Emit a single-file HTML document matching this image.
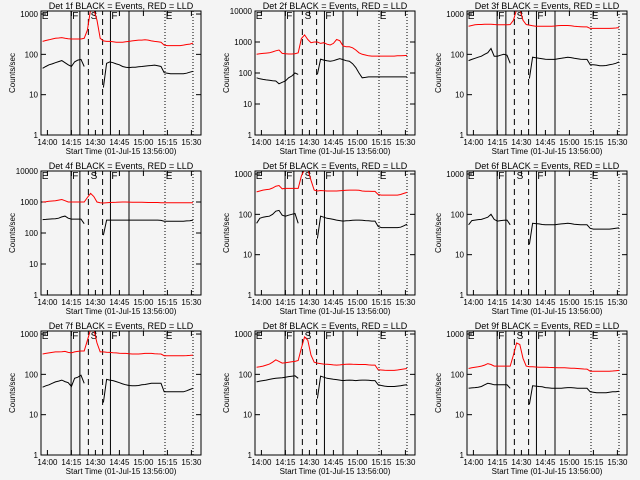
<!DOCTYPE html>
<html><head><meta charset="utf-8"><style>
html,body{margin:0;padding:0;background:#f4f4f4;}
svg{display:block;font-family:"Liberation Sans",sans-serif;}
</style></head><body>
<svg id="chart" width="640" height="480" viewBox="0 0 640 480"></svg>
<script>
// sample times (minutes after 13:56:00)
const times=[1,3,5,7,9,11,13,15,17,19,21,23,25,27,29,31,33,35,37,39,41,43,45,47,49,51,53,55,57,59,61,63,65,67,69,71,73,75,77,79,81,83,85,87,89,91,93,95];
const detectors=["1f","2f","3f","4f","5f","6f","7f","8f","9f"];
const xTickLabels=["14:00","14:15","14:30","14:45","15:00","15:15","15:30"];
const xTickMinutes=[4,19,34,49,64,79,94];
const solidLines=[18.8,24.3,43.4,55];
const dashedLines=[29.6,38.5];
const dottedLines=[77.5,95];
const phaseLetters=["E","F","S","F","E"];
const phaseMinutes=[0.5,19.5,31,44,78];
const yMaxLog=[3.075,4,3.075,4,3.075,3.075,3.075,3.075,3.075];
const red1=[210,220,230,240,250,255,260,250,245,240,240,240,240,250,400,1300,1300,700,250,215,210,210,205,200,200,200,205,210,215,220,225,225,230,225,215,210,205,200,170,165,165,165,165,165,170,175,180,190];
const black1=[45,50,55,58,62,66,70,62,55,50,65,72,75,50,null,null,null,null,null,15,60,65,62,58,55,50,48,47,48,48,49,50,51,52,53,54,52,50,35,34,33,33,33,33,33,34,36,38];
const red2=[400,420,430,440,450,480,520,550,430,420,410,410,420,450,1300,1700,1200,950,1000,1000,900,950,850,800,900,1200,1100,750,700,700,650,550,450,400,380,360,350,350,350,350,350,350,350,350,360,360,365,370];
const black2=[70,65,62,60,58,56,55,45,50,55,70,80,100,90,null,null,null,null,null,90,280,260,250,240,250,270,290,270,250,240,200,150,100,70,72,75,75,75,75,75,75,75,75,75,75,75,75,75];
const red3=[500,520,540,550,550,555,560,560,550,545,540,540,540,550,700,1300,1300,700,550,530,510,500,500,500,500,500,500,505,515,520,520,520,510,500,490,485,480,480,440,440,440,440,440,440,440,445,450,460];
const black3=[70,75,80,85,90,100,110,140,90,90,95,100,95,60,null,null,null,null,null,25,85,82,80,78,76,75,75,75,78,80,82,85,83,80,78,76,75,75,55,55,54,52,52,53,55,57,60,65];
const red4=[1000,1020,1050,1080,1100,1150,1200,1100,1000,1000,1000,1000,1000,1000,1400,1900,1500,1000,950,930,950,960,970,980,990,1000,1000,990,980,980,980,980,970,960,960,960,960,950,950,950,950,950,950,950,950,950,950,950];
const black4=[270,275,280,285,290,300,330,350,300,280,280,280,280,200,null,null,null,null,null,85,260,260,260,260,260,260,260,260,260,260,260,260,260,260,260,260,260,255,240,240,240,240,240,240,240,245,250,260];
const red5=[360,380,400,410,420,450,500,520,430,440,440,440,440,440,900,1300,1300,700,400,380,390,385,380,380,380,380,385,390,395,400,400,400,395,380,375,372,370,370,310,300,300,300,300,300,300,310,330,350];
const black5=[60,80,85,88,90,100,120,125,95,90,95,100,105,60,null,null,null,null,null,25,90,85,80,78,75,72,70,68,69,70,71,72,72,71,70,69,68,68,50,47,47,47,47,47,47,48,52,57];
const red6=[1250,1250,1250,1250,1250,1250,1250,1250,1250,1250,1250,1250,1250,1250,1250,1250,1250,1250,1250,1250,1250,1250,1250,1250,1250,1250,1250,1250,1250,1250,1250,1250,1250,1250,1250,1250,1250,1250,1250,1250,1250,1250,1250,1250,1250,1250,1250,1250];
const black6=[55,70,72,74,75,80,85,100,75,68,70,71,72,55,null,null,null,null,null,18,60,59,58,56,55,55,55,55,57,58,59,60,59,57,56,55,55,55,45,43,43,43,43,43,43,44,45,46];
const red7=[320,330,340,350,360,360,365,370,350,340,360,370,380,380,700,1300,1300,600,360,360,355,350,345,340,335,330,330,325,320,320,320,325,330,330,330,325,322,320,290,290,290,290,290,290,290,292,295,300];
const black7=[48,52,55,60,65,68,72,66,62,50,80,85,95,60,null,null,null,null,null,20,75,72,70,66,62,58,55,53,52,52,53,55,56,58,60,60,60,60,37,37,37,37,37,37,37,39,42,45];
const red8=[150,155,160,170,180,200,230,210,190,195,200,205,210,220,450,850,700,300,200,190,185,180,178,175,172,170,172,175,178,180,178,176,175,175,175,172,170,170,130,128,126,125,125,125,128,132,136,140];
const black8=[65,68,70,72,75,78,80,81,82,85,88,90,92,80,null,null,null,null,null,25,90,85,80,78,76,74,72,70,71,72,71,70,71,72,72,71,70,70,55,53,51,50,50,50,51,52,54,55];
const red9=[140,145,150,155,160,170,185,175,160,160,160,160,160,160,300,600,550,250,160,155,155,152,150,150,150,149,148,147,146,145,145,144,142,141,140,138,136,135,120,120,120,120,120,120,120,121,123,125];
const black9=[45,46,47,48,50,55,60,58,55,55,55,55,55,45,null,null,null,null,null,18,52,51,50,49,47,46,45,45,45,45,46,47,47,46,45,45,45,45,37,36,35,35,35,35,36,37,37,38];
const redSeries=[red1,red2,red3,red4,red5,red6,red7,red8,red9];
const blackSeries=[black1,black2,black3,black4,black5,black6,black7,black8,black9];

const NS="http://www.w3.org/2000/svg";
const svg=document.getElementById('chart');
const lefts=[41,255,467], tops=[11,171,331], W=160, H=124, TMAX=100;
function mk(tag,attrs,parent){const e=document.createElementNS(NS,tag);for(const k in attrs)e.setAttribute(k,attrs[k]);parent.appendChild(e);return e;}

for(let p=0;p<9;p++){
  const L=lefts[p%3], T=tops[Math.floor(p/3)], ymx=yMaxLog[p];
  const xs=m=>L+m/TMAX*W;
  const ys=v=>T+H-(Math.log10(v)/ymx)*H;
  const g=mk('g',{},svg);
  
  
  const clipId='clip'+p;
  const cp=mk('clipPath',{id:clipId},g);
  mk('rect',{x:L,y:T,width:W,height:H},cp);
  const t=mk('text',{x:L+W/2,y:T-2,'text-anchor':'middle','font-size':9,fill:'#000'},g);
  t.textContent='Det '+detectors[p]+' BLACK = Events, RED = LLD';
  
  
  const yl=mk('text',{x:0,y:0,'text-anchor':'middle','font-size':8,fill:'#000',transform:`translate(${L-26},${T+H/2}) rotate(-90)`},g);
  yl.textContent='Counts/sec';
  
  
  for(let d=0;d<=Math.floor(ymx);d++){
    const y=ys(Math.pow(10,d));
    const tl=mk('text',{x:L-3,y:y+3,'text-anchor':'end','font-size':8,fill:'#000'},g);
    tl.textContent=String(Math.pow(10,d));
    
    
    mk('line',{x1:L,x2:L+5,y1:y,y2:y,stroke:'#000'},g);
    mk('line',{x1:L+W-5,x2:L+W,y1:y,y2:y,stroke:'#000'},g);
  }
  for(let i=0;i<xTickLabels.length;i++){
    const x=xs(xTickMinutes[i]);
    const xl=mk('text',{x:x,y:T+H+10,'text-anchor':'middle','font-size':8,fill:'#000'},g);
    xl.textContent=xTickLabels[i];
    
    
    mk('line',{x1:x,x2:x,y1:T+H,y2:T+H-5,stroke:'#000'},g);
    mk('line',{x1:x,x2:x,y1:T,y2:T+5,stroke:'#000'},g);
  }
  const xt=mk('text',{x:L+W/2,y:T+H+19,'text-anchor':'middle','font-size':8,fill:'#000'},g);
  xt.textContent='Start Time (01-Jul-15 13:56:00)';
  
  
  solidLines.forEach(m=>{const x=xs(m);mk('line',{x1:x,x2:x,y1:T,y2:T+H,stroke:'#000','stroke-width':1},g);});
  dashedLines.forEach(m=>{const x=xs(m);mk('line',{x1:x,x2:x,y1:T+H,y2:T,stroke:'#000','stroke-width':1,'stroke-dasharray':'6,4'},g);});
  dottedLines.forEach(m=>{const x=xs(m);mk('line',{x1:x,x2:x,y1:T,y2:T+H,stroke:'#000','stroke-width':1,'stroke-dasharray':'1,2'},g);});
  phaseLetters.forEach((s,i)=>{
    const lt=mk('text',{x:xs(phaseMinutes[i]),y:T+8,'font-size':10,fill:'#000'},g);
    lt.textContent=s;
    
    
  });
  function path(arr){
    let d='',pen=false;
    arr.forEach((v,i)=>{
      if(v==null){pen=false;return;}
      d+=(pen?'L':'M')+xs(times[i]).toFixed(1)+','+ys(v).toFixed(1);pen=true;
    });
    return d;
  }
  const rp=mk('path',{d:path(redSeries[p]),fill:'none',stroke:'#ff0000','stroke-width':1,'clip-path':`url(#${clipId})`},g);
  
  
  const bp=mk('path',{d:path(blackSeries[p]),fill:'none',stroke:'#000','stroke-width':1,'clip-path':`url(#${clipId})`},g);
  
  
  const fr=mk('rect',{x:L,y:T,width:W,height:H,fill:'none',stroke:'#000','stroke-width':1},g);
  
  
}
</script>
</body></html>
